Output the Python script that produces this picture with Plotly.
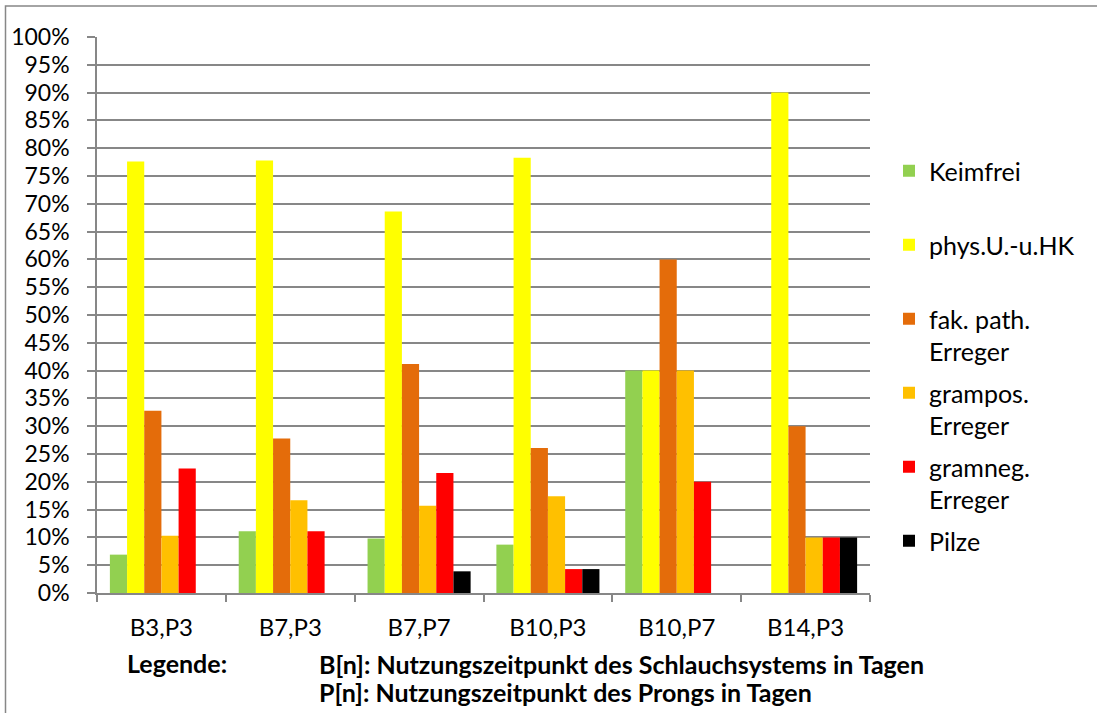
import plotly.graph_objects as go

# Sampling time points (B = tubing system day, P = prong day)
categories = ["B3,P3", "B7,P3", "B7,P7", "B10,P3", "B10,P7", "B14,P3"]

keimfrei = [0.069, 0.111, 0.098, 0.087, 0.40, 0.0]
phys_hk = [0.776, 0.778, 0.686, 0.783, 0.40, 0.90]
fak_path = [0.328, 0.278, 0.412, 0.261, 0.60, 0.30]
grampos = [0.103, 0.167, 0.157, 0.174, 0.40, 0.10]
gramneg = [0.224, 0.111, 0.216, 0.043, 0.20, 0.10]
pilze = [0.0, 0.0, 0.039, 0.043, 0.0, 0.10]

y_ticks = [i / 20 for i in range(21)]

series = [
    ("Keimfrei<br>\u00a0", keimfrei, "#92D050"),
    ("phys.U.-u.HK<br>\u00a0", phys_hk, "#FFFF00"),
    ("fak. path.<br>Erreger", fak_path, "#E46C0A"),
    ("grampos.<br>Erreger", grampos, "#FFC000"),
    ("gramneg.<br>Erreger", gramneg, "#FF0000"),
    ("Pilze", pilze, "#000000"),
]

FONT = "Lato, Open Sans, sans-serif"
GRID = "#878787"

fig = go.Figure()
for i, (name, vals, color) in enumerate(series):
    fig.add_trace(go.Bar(
        x=categories, y=vals, name=name,
        marker=dict(color=color, line=dict(width=0)),
        legendgroup=f"g{i}",
        hoverinfo="x+y+name",
    ))

W, H = 1097, 713
L, R, T, B = 97, 227, 37, 120
pw, ph = W - L - R, H - T - B


def px_x(x):
    return (x - L) / pw


def px_y(y):
    return (H - B - y) / ph


fig.update_layout(
    width=W, height=H,
    margin=dict(l=L, r=R, t=T, b=B, pad=0, autoexpand=False),
    paper_bgcolor="white", plot_bgcolor="white",
    barmode="group", bargap=0.2, bargroupgap=0,
    font=dict(family=FONT, size=24, color="#000000"),
    legend=dict(
        x=px_x(889), y=px_y(148), xanchor="left", yanchor="top",
        valign="top", tracegroupgap=6,
        font=dict(family=FONT, size=25, color="#000000"),
        bgcolor="rgba(0,0,0,0)",
    ),
    xaxis=dict(
        type="category", automargin=False,
        showline=True, linecolor=GRID, linewidth=1.5,
        ticks="outside", tickson="boundaries", ticklen=7, tickcolor=GRID,
        tickwidth=1.5, showgrid=False, zeroline=False,
        ticklabelstandoff=12,
        tickfont=dict(family=FONT, size=24),
    ),
    yaxis=dict(
        range=[0, 1], tickvals=y_ticks, tickformat=".0%", automargin=False,
        showline=True, linecolor=GRID, linewidth=1.5,
        ticks="outside", ticklen=8, tickcolor=GRID, tickwidth=1.5,
        showgrid=True, gridcolor=GRID, gridwidth=1.5, zeroline=False,
        ticklabelstandoff=13,
        tickfont=dict(family=FONT, size=23),
    ),
    shapes=[dict(
        type="rect", xref="paper", yref="paper",
        x0=px_x(5.5), x1=px_x(1110), y0=px_y(730), y1=px_y(6),
        line=dict(color=GRID, width=1.5), fillcolor="rgba(0,0,0,0)",
        layer="below",
    )],
    annotations=[
        dict(text="<b>Legende:</b>", xref="paper", yref="paper",
             x=px_x(125), y=px_y(663), xanchor="left", yanchor="middle",
             showarrow=False, font=dict(family=FONT, size=25)),
        dict(text="<b>B[n]: Nutzungszeitpunkt des Schlauchsystems in Tagen</b>",
             xref="paper", yref="paper",
             x=px_x(317), y=px_y(664), xanchor="left", yanchor="middle",
             showarrow=False, font=dict(family=FONT, size=25)),
        dict(text="<b>P[n]: Nutzungszeitpunkt des Prongs in Tagen</b>",
             xref="paper", yref="paper",
             x=px_x(317), y=px_y(692), xanchor="left", yanchor="middle",
             showarrow=False, font=dict(family=FONT, size=25)),
    ],
)

fig.write_html("out.html")
